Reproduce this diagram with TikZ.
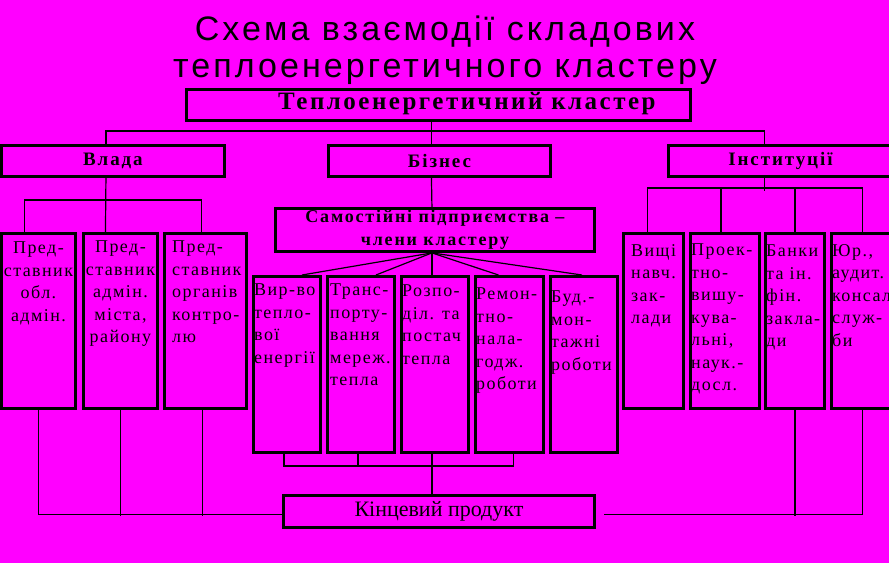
\documentclass[tikz,border=0pt]{standalone}
\usepackage{fontspec}
\setmainfont{Liberation Serif}
\newfontfamily\titlefont{Liberation Sans}[LetterSpace=9]
\newfontfamily\headfont{Liberation Serif}[LetterSpace=10]
\newfontfamily\cellfont{Liberation Serif}[LetterSpace=8]
\usetikzlibrary{positioning}
\definecolor{bgmag}{RGB}{255,0,255}

\begin{document}
\begin{tikzpicture}[x=1pt, y=-1pt,
        box/.style = {draw, line width=2.9pt, inner sep=0pt, anchor=north west},
        head/.style = {font={\headfont\bfseries\fontsize{19}{23}\selectfont}},
        cell/.style = {inner sep=0pt, align=left, font={\cellfont\fontsize{18}{22.5}\selectfont}},
        ctitle/.style = {inner sep=0pt, anchor=base, font={\titlefont\fontsize{34}{38}\selectfont}},
        wire/.style = {line width=1.2pt}]
        \useasboundingbox (0,0) rectangle (889,563);
        \fill[bgmag] (0,0) rectangle (889,563);

        \node[ctitle] (t1) at (445,40) {Схема взаємодії складових};
        \node[ctitle] (t2) at (445,77) {теплоенергетичного кластеру};

        \node[box, minimum width=504, minimum height=31] (tc) at (185,88) {};
        \node[inner sep=0pt, font={\headfont\bfseries\fontsize{25}{28}\selectfont},
            below right=4pt and 93pt of tc.north west] (tct) {Теплоенергетичний кластер};

        \node[box, head, minimum width=223, minimum height=31] (vl) at (0,144) {Влада};
        \node[box, head, minimum width=222, minimum height=31] (bz) at (327,144) {Бізнес};
        \node[box, head, minimum width=224, minimum height=31] (in) at (667,144) {Інституції};

        \node[box, head, align=center, minimum width=319, minimum height=43,
            font={\headfont\bfseries\fontsize{18}{23}\selectfont}] (sm) at (274,207)
            {Самостійні підприємства –\\члени кластеру};

        \node[box, minimum width=74, minimum height=175] (l1) at (0,232) {};
        \node[box, minimum width=74, minimum height=175] (l2) at (82,232) {};
        \node[box, minimum width=82, minimum height=175] (l3) at (163,232) {};
        \node[cell, align=center, below=10pt of l1.north] (l1t) {Пред-\\ставник\\обл.\\адмін.};
        \node[cell, align=center, below=9pt of l2.north] (l2t) {Пред-\\ставник\\адмін.\\міста,\\району};
        \node[cell, below right=9pt and 9pt of l3.north west] (l3t) {Пред-\\ставник\\органів\\контро-\\лю};

        \node[box, minimum width=67, minimum height=176] (m1) at (252,275) {};
        \node[box, minimum width=67, minimum height=176] (m2) at (326,275) {};
        \node[box, minimum width=67, minimum height=176] (m3) at (400,275) {};
        \node[box, minimum width=68, minimum height=176] (m4) at (474,275) {};
        \node[box, minimum width=67, minimum height=176] (m5) at (549,275) {};
        \node[cell, below right=9pt and 2pt of m1.north west] (m1t) {Вир-во\\тепло-\\вої\\енергії};
        \node[cell, below right=9pt and 4pt of m2.north west] (m2t) {Транс-\\порту-\\вання\\мереж.\\тепла};
        \node[cell, below right=10pt and 2pt of m3.north west] (m3t) {Розпо-\\діл. та\\постач\\тепла};
        \node[cell, below right=13pt and 2pt of m4.north west] (m4t) {Ремон-\\тно-\\нала-\\годж.\\роботи};
        \node[cell, below right=16pt and 2pt of m5.north west] (m5t) {Буд.-\\мон-\\тажні\\роботи};

        \node[box, minimum width=60, minimum height=175] (r1) at (622,232) {};
        \node[box, minimum width=69, minimum height=175] (r2) at (689,232) {};
        \node[box, minimum width=59, minimum height=175] (r3) at (764,232) {};
        \node[box, minimum width=62, minimum height=175] (r4) at (830,232) {};
        \node[cell, below right=12pt and 9pt of r1.north west] (r1t) {Вищі\\навч.\\зак-\\лади};
        \node[cell, below right=12pt and 2pt of r2.north west] (r2t) {Проек-\\тно-\\вишу-\\кува-\\льні,\\наук.-\\досл.};
        \node[cell, below right=13pt and 2pt of r3.north west] (r3t) {Банки\\та ін.\\фін.\\закла-\\ди};
        \node[cell, below right=12pt and 2pt of r4.north west] (r4t) {Юр.,\\аудит.\\консал\\служ-\\би};

        \node[box, minimum width=311, minimum height=32,
            font={\fontsize{22}{24}\selectfont}] (fp) at (282,494) {Кінцевий продукт};

        \draw[wire] ([xshift=-7pt]tc.south) -- ([xshift=-8pt]bz.north);
        \draw[wire] ([xshift=-7pt]vl.north) -- ++(0,-13) -| ([xshift=-16pt]in.north);

        \draw[wire] ([xshift=-7pt]vl.south) -- ([xshift=-15pt]l2.north);
        \draw[wire] ([xshift=-14pt]l1.north) -- ++(0,-32) -| ([xshift=-4pt]l3.north);

        \draw[wire] ([xshift=-8pt]bz.south) -- ([xshift=-3pt]sm.north);
        \draw[wire] ([xshift=-3pt]sm.south) -- ([xshift=15pt]m1.north);
        \draw[wire] ([xshift=-3pt]sm.south) -- ([xshift=15pt]m2.north);
        \draw[wire] ([xshift=-3pt]sm.south) -- ([xshift=-3pt]m3.north);
        \draw[wire] ([xshift=-3pt]sm.south) -- ([xshift=-11pt]m4.north);
        \draw[wire] ([xshift=-3pt]sm.south) -- ([xshift=-2pt]m5.north);

        \draw[wire] ([xshift=-16pt]in.south) -- ++(0,13);
        \draw[wire] ([xshift=-6pt]r1.north) -- ++(0,-44) -| (r4.north);
        \draw[wire] ([xshift=-4pt]r2.north) -- ++(0,-44);
        \draw[wire] (r3.north) -- ++(0,-44);

        \draw[wire] ([xshift=-3pt]m1.south) -- ++(0,12) -| ([xshift=4pt]m4.south);
        \draw[wire] ([xshift=-3pt]m2.south) -- ++(0,12);
        \draw[wire] ([xshift=-3pt]m3.south) -- ([xshift=-7pt]fp.north);

        \draw[wire] (l1.south) |- ([yshift=-3pt]fp.west);
        \draw[wire] (l2.south) -- ++(0,106);
        \draw[wire] ([xshift=-3pt]l3.south) -- ++(0,106);

        \draw[wire] (r4.south) |- ([xshift=8pt, yshift=-3pt]fp.east);
        \draw[wire] (r3.south) -- ++(0,106);
    \end{tikzpicture}
\end{document}
